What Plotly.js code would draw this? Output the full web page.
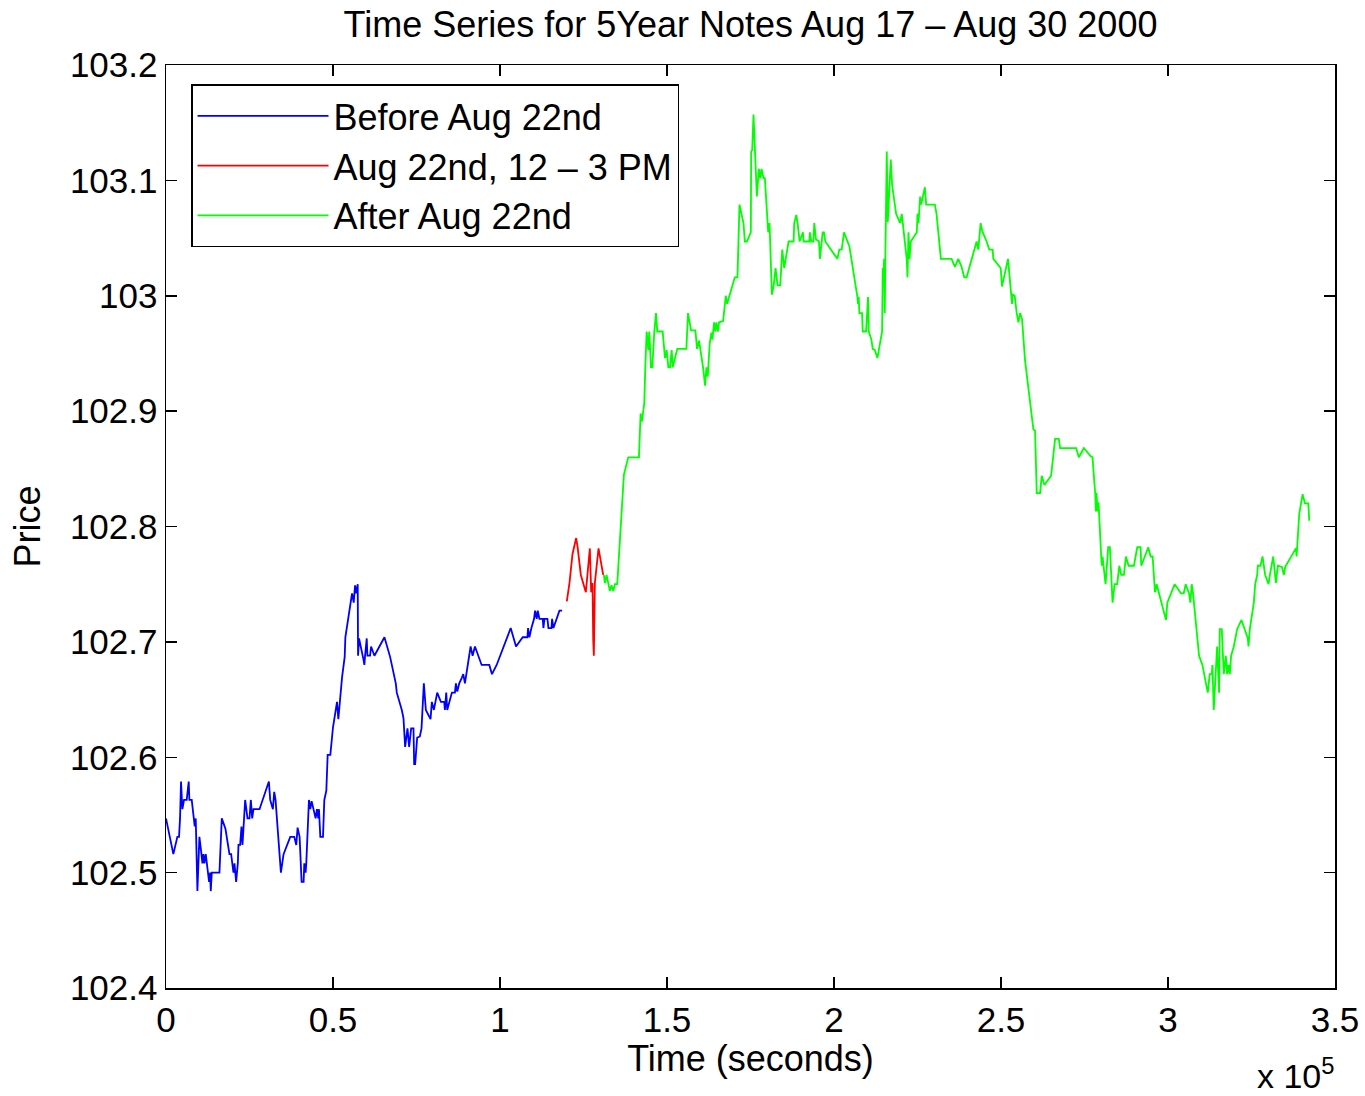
<!DOCTYPE html>
<html>
<head>
<meta charset="utf-8">
<script src="https://cdn.plot.ly/plotly-3.0.1.min.js"></script>
<style>html,body{margin:0;padding:0;background:#fff;}#chart{width:1365px;height:1096px;}</style>
</head>
<body>
<div id="chart"></div>
<script>
// Time values in thousands of seconds, prices in points
const tBefore = [0,2.2,3.4,3.9,4.2,4.5,4.9,5.4,6.2,6.8,7.0,7.7,8.6,8.9,9.4,10.0,10.5,10.9,11.2,11.5,11.9,12.9,13.2,13.4,13.7,16.0,16.7,17.8,19.0,19.5,20.2,20.5,21.0,21.5,21.7,22.2,22.6,22.9,23.7,24.4,25.0,25.4,25.8,26.2,28.0,30.8,31.2,32.0,32.4,32.8,34.4,35.2,37.2,38.4,39.0,39.4,40.0,40.6,41.2,41.4,41.8,42.0,42.8,43.2,43.6,44.2,44.8,45.2,45.6,45.8,46.2,47.0,47.4,48.0,48.4,49.2,50.0,51.2,51.6,52.7,53.5,53.7,55.7,56.2,56.6,56.9,57.4,57.5,57.8,59.1,59.4,59.6,60.1,60.3,61.1,61.4,62.4,65.4,67.1,68.8,69.1,70.6,71.1,71.6,72.3,72.8,73.4,74.1,74.3,74.6,75.2,76.0,76.5,77.2,77.8,79.2,79.6,80.2,81.2,82.3,83.3,83.5,83.9,84.2,84.8,85.6,86.5,86.8,87.2,87.8,88.6,89.0,89.5,91.2,91.8,92.5,94.5,96.8,97.6,99.0,103.2,104.8,106.8,108.2,108.4,108.8,109.4,110.2,110.5,111.0,111.3,111.8,112.8,113.0,113.3,114.2,114.5,115.4,115.6,116.0,117.8,118.6];
const pBefore = [102.547,102.516,102.531,102.531,102.547,102.579,102.555,102.563,102.563,102.579,102.563,102.563,102.540,102.547,102.484,102.531,102.519,102.508,102.516,102.508,102.516,102.492,102.500,102.484,102.500,102.500,102.547,102.538,102.516,102.516,102.500,102.508,102.492,102.508,102.524,102.524,102.540,102.524,102.563,102.547,102.547,102.563,102.547,102.555,102.555,102.579,102.563,102.555,102.570,102.563,102.500,102.516,102.531,102.531,102.524,102.539,102.531,102.492,102.492,102.508,102.500,102.508,102.563,102.555,102.562,102.555,102.547,102.555,102.547,102.555,102.531,102.531,102.563,102.571,102.602,102.602,102.626,102.648,102.633,102.669,102.687,102.704,102.742,102.734,102.749,102.742,102.750,102.688,102.703,102.685,102.680,102.688,102.703,102.688,102.688,102.696,102.688,102.704,102.687,102.664,102.656,102.641,102.634,102.609,102.625,102.609,102.625,102.625,102.594,102.594,102.617,102.618,102.625,102.664,102.641,102.633,102.648,102.641,102.656,102.648,102.648,102.641,102.656,102.641,102.648,102.656,102.656,102.664,102.657,102.664,102.669,102.672,102.664,102.696,102.688,102.696,102.680,102.680,102.672,102.680,102.712,102.696,102.704,102.704,102.712,102.704,102.712,102.720,102.727,102.720,102.727,102.720,102.720,102.712,102.720,102.720,102.712,102.712,102.720,102.712,102.727,102.727];

const tDuring = [120.0,120.8,121.7,122.8,123.2,124.2,125.7,126.9,127.3,127.7,127.9,128.1,128.4,128.9,129.5,130.9];
const pDuring = [102.735,102.751,102.776,102.790,102.783,102.758,102.743,102.781,102.743,102.751,102.703,102.688,102.751,102.767,102.781,102.758];

const tAfter = [131.1,131.4,131.9,132.9,133.4,133.9,134.4,135.1,137.1,138.4,141.6,142.1,142.5,142.9,143.2,143.5,143.9,144.4,144.7,145.2,145.6,146.2,146.7,147.1,148.7,149.4,149.9,150.4,150.9,151.4,151.7,153.1,155.8,156.3,157.2,158.5,159.0,159.6,160.0,160.8,161.4,161.8,162.2,162.8,163.3,163.6,164.1,164.4,164.8,165.2,165.6,166.8,167.6,168.0,168.9,169.7,170.3,171.1,171.7,172.9,173.3,173.9,175.1,175.2,175.5,175.9,176.3,176.9,177.5,177.9,178.3,178.9,179.3,179.9,180.3,180.7,180.9,181.4,181.9,182.5,183.1,183.9,184.5,185.1,186.4,187.9,188.1,188.7,189.1,189.7,190.7,190.9,192.6,192.8,193.2,193.8,194.1,194.6,195.5,195.8,196.6,197.0,197.4,201.0,201.6,202.3,203.0,204.6,207.0,207.2,207.4,207.6,208.4,208.6,209.6,210.2,210.4,211.2,211.6,212.2,213.0,214.0,214.4,214.6,214.8,215.0,215.2,215.4,215.6,215.8,216.1,217.0,217.4,218.6,219.8,220.3,220.6,221.8,222.0,222.3,222.6,223.0,224.8,225.0,225.3,225.8,226.1,226.6,227.2,227.6,230.2,230.7,232.0,235.2,236.2,237.2,238.2,239.0,239.7,242.7,243.2,243.9,244.4,245.7,246.5,247.5,247.7,249.9,250.3,252.1,252.5,253.0,253.3,253.5,254.1,254.7,255.2,255.7,256.3,257.2,259.7,260.2,260.7,261.7,261.9,262.2,263.0,265.0,266.2,267.3,267.7,272.5,273.3,274.8,276.8,277.4,277.8,278.2,278.4,278.6,278.9,279.2,280.0,280.2,280.4,281.3,282.1,282.6,283.4,284.0,284.8,285.4,286.0,286.8,287.4,288.2,289.8,290.8,291.8,292.0,294.1,294.8,295.4,296.1,296.6,299.4,299.8,301.0,302.0,303.9,304.7,305.3,306.3,306.7,307.1,307.5,309.3,310.3,311.3,311.9,312.5,313.1,313.3,313.7,314.7,315.3,315.5,316.1,316.7,317.3,317.7,318.1,318.5,318.9,319.7,320.7,322.0,323.9,324.1,324.5,325.7,326.1,326.7,326.9,327.7,328.3,329.1,330.1,330.5,331.5,332.3,332.9,334.1,334.7,335.1,338.3,338.5,339.3,340.3,341.0,342.0,342.3];
const pAfter = [102.758,102.751,102.758,102.744,102.749,102.744,102.750,102.750,102.845,102.860,102.860,102.898,102.891,102.898,102.907,102.938,102.969,102.953,102.969,102.938,102.938,102.969,102.985,102.969,102.969,102.946,102.953,102.938,102.938,102.953,102.938,102.954,102.954,102.985,102.970,102.970,102.954,102.961,102.954,102.938,102.922,102.938,102.930,102.959,102.968,102.962,102.977,102.969,102.977,102.969,102.977,102.978,103.000,102.993,103.002,103.009,103.016,103.016,103.079,103.063,103.047,103.047,103.055,103.125,103.126,103.157,103.127,103.086,103.110,103.102,103.110,103.102,103.102,103.070,103.055,103.063,103.049,103.001,103.008,103.024,103.009,103.009,103.040,103.024,103.047,103.047,103.063,103.070,103.063,103.047,103.055,103.047,103.047,103.055,103.047,103.047,103.063,103.049,103.047,103.032,103.055,103.055,103.047,103.032,103.040,103.040,103.055,103.043,102.999,102.993,102.999,102.985,102.985,102.969,102.969,102.999,102.969,102.962,102.954,102.953,102.946,102.962,102.969,103.024,103.017,103.032,102.985,103.040,103.071,103.125,103.064,103.118,103.096,103.071,103.063,103.071,103.063,103.031,103.016,103.055,103.032,103.047,103.055,103.071,103.063,103.086,103.079,103.086,103.094,103.079,103.079,103.071,103.032,103.032,103.025,103.032,103.025,103.016,103.016,103.047,103.040,103.063,103.056,103.047,103.040,103.040,103.032,103.024,103.008,103.032,103.016,103.001,102.993,103.001,103.000,102.985,102.977,102.985,102.980,102.944,102.884,102.883,102.829,102.829,102.836,102.844,102.836,102.844,102.876,102.876,102.868,102.868,102.860,102.868,102.861,102.860,102.844,102.829,102.813,102.829,102.813,102.821,102.774,102.766,102.774,102.750,102.782,102.782,102.734,102.750,102.750,102.766,102.758,102.758,102.774,102.766,102.766,102.782,102.782,102.766,102.782,102.774,102.774,102.743,102.750,102.719,102.734,102.742,102.750,102.742,102.742,102.750,102.742,102.734,102.750,102.742,102.688,102.680,102.664,102.656,102.672,102.672,102.680,102.641,102.696,102.656,102.711,102.711,102.672,102.688,102.672,102.680,102.672,102.688,102.696,102.711,102.719,102.703,102.696,102.711,102.734,102.750,102.758,102.766,102.766,102.774,102.758,102.750,102.758,102.774,102.751,102.766,102.765,102.758,102.765,102.781,102.774,102.811,102.828,102.820,102.820,102.805];

const seriesNames = ['Before Aug 22nd', 'Aug 22nd, 12 \u2013 3 PM', 'After Aug 22nd'];
const xTickVals = [0, 50000, 100000, 150000, 200000, 250000, 300000, 350000];
const xTickText = ['0', '0.5', '1', '1.5', '2', '2.5', '3', '3.5'];
const yTickVals = [102.4, 102.5, 102.6, 102.7, 102.8, 102.9, 103.0, 103.1, 103.2];
const yTickText = ['102.4', '102.5', '102.6', '102.7', '102.8', '102.9', '103', '103.1', '103.2'];

const toSec = a => a.map(v => v * 1000);
const FONT = 'Liberation Sans, Arial, Helvetica, sans-serif';

const traces = [
  {x: toSec(tBefore), y: pBefore, name: seriesNames[0], type: 'scatter', mode: 'lines', line: {color: '#0000ff', width: 1.8}},
  {x: toSec(tDuring), y: pDuring, name: seriesNames[1], type: 'scatter', mode: 'lines', line: {color: '#ff0000', width: 1.8}},
  {x: toSec(tAfter), y: pAfter, name: seriesNames[2], type: 'scatter', mode: 'lines', line: {color: '#00ff00', width: 1.8}}
];

const axisCommon = {
  showline: true, linecolor: '#000', linewidth: 1.5, mirror: 'allticks',
  ticks: 'inside', ticklen: 11, tickwidth: 1.5, tickcolor: '#000',
  showgrid: false, zeroline: false,
  tickfont: {family: FONT, size: 35, color: '#000'}
};

const layout = {
  width: 1365, height: 1096,
  margin: {l: 166, r: 30, t: 65, b: 108},
  paper_bgcolor: '#fff', plot_bgcolor: '#fff',
  font: {family: FONT, color: '#000'},
  title: {text: 'Time Series for 5Year Notes Aug 17 \u2013 Aug 30 2000', font: {family: FONT, size: 36, color: '#000'},
          x: 0.5, xref: 'paper', y: 0.978, yref: 'container', yanchor: 'middle'},
  xaxis: Object.assign({}, axisCommon, {
    range: [0, 350000], tickmode: 'array', tickvals: xTickVals, ticktext: xTickText,
    title: {text: 'Time (seconds)', font: {family: FONT, size: 36, color: '#000'}, standoff: 4}
  }),
  yaxis: Object.assign({}, axisCommon, {
    range: [102.4, 103.2], tickmode: 'array', tickvals: yTickVals, ticktext: yTickText,
    title: {text: 'Price', font: {family: FONT, size: 36, color: '#000'}, standoff: 18}
  }),
  showlegend: true,
  legend: {
    x: 0.0214, y: 0.979, xanchor: 'left', yanchor: 'top',
    bgcolor: '#fff', bordercolor: '#000', borderwidth: 1.5,
    font: {family: FONT, size: 36, color: '#000'},
    itemwidth: 131, tracegroupgap: 0
  },
  annotations: [{
    text: 'x 10<sup>5</sup>', xref: 'paper', yref: 'paper', x: 0.967, y: -0.093,
    xanchor: 'center', yanchor: 'middle', showarrow: false,
    font: {family: FONT, size: 34, color: '#000'}
  }]
};

Plotly.newPlot('chart', traces, layout, {displayModeBar: false, staticPlot: true});
</script>
</body>
</html>
